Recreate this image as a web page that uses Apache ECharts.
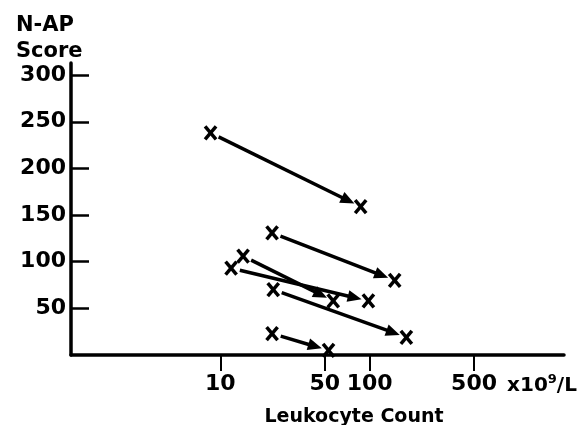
<!DOCTYPE html>
<html>
<head>
<meta charset="utf-8">
<script src="https://cdn.jsdelivr.net/npm/echarts@6/dist/echarts.min.js"></script>
<style>html,body{margin:0;padding:0;background:#fff;}#c{width:582px;height:425px;}</style>
</head>
<body>
<div id="c"></div>
<script>
// Paired observations: start (x) -> end (arrow, x)
const startCount = [8.6, 22.2, 14.2, 11.8, 22.6, 22.2];
const startScore = [238, 131, 106, 93, 70, 23];
const endCount = [87, 147, 57, 98, 176, 53];
const endScore = [159, 80, 58, 58, 19, 5];
const xTicks = [10, 50, 100, 500];
const unitTick = [500];
const yTicks = [50, 100, 150, 200, 250, 300];
const titleText = 'N-AP\nScore';
const xName = 'Leukocyte Count';

const FONT = 'DejaVu Sans';
const chart = echarts.init(document.getElementById('c'), null, {renderer: 'canvas'});

const pairs = startCount.map((v, i) => [v, startScore[i], endCount[i], endScore[i]]);
const markers = [];
startCount.forEach((v, i) => { markers.push([v, startScore[i]]); markers.push([endCount[i], endScore[i]]); });

function renderX(params, api) {
  const p = api.coord([api.value(0), api.value(1)]);
  const w = 5.5, h = 6.5;
  return {
    type: 'group',
    children: [
      {type: 'line', shape: {x1: p[0] - w, y1: p[1] - h, x2: p[0] + w, y2: p[1] + h}, style: {stroke: '#000', lineWidth: 3.5}},
      {type: 'line', shape: {x1: p[0] + w, y1: p[1] - h, x2: p[0] - w, y2: p[1] + h}, style: {stroke: '#000', lineWidth: 3.5}}
    ]
  };
}

function renderArrow(params, api) {
  const p0 = api.coord([api.value(0), api.value(1)]);
  const p1 = api.coord([api.value(2), api.value(3)]);
  const dx = p1[0] - p0[0], dy = p1[1] - p0[1];
  const L = Math.sqrt(dx * dx + dy * dy);
  const ux = dx / L, uy = dy / L;
  const nx = -uy, ny = ux;
  const s = [p0[0] + ux * 9, p0[1] + uy * 9];
  const tip = [p1[0] - ux * 7, p1[1] - uy * 7];
  const hl = 14, hw = 6;
  const base = [tip[0] - ux * hl, tip[1] - uy * hl];
  return {
    type: 'group',
    children: [
      {type: 'line', shape: {x1: s[0], y1: s[1], x2: base[0] + ux * 3, y2: base[1] + uy * 3}, style: {stroke: '#000', lineWidth: 3.5}},
      {type: 'polygon', shape: {points: [tip, [base[0] + nx * hw, base[1] + ny * hw], [base[0] - nx * hw, base[1] - ny * hw]]}, style: {fill: '#000'}}
    ]
  };
}

const labelStyle = {fontFamily: FONT, fontSize: 22, fontWeight: 'bold', color: '#000'};

chart.setOption({
  animation: false,
  backgroundColor: '#fff',
  title: {
    text: titleText, left: 11, top: 8,
    textStyle: {fontFamily: FONT, fontSize: 21, fontWeight: 'bold', color: '#000', lineHeight: 26}
  },
  grid: {left: 71, right: 18, top: 63, bottom: 70, containLabel: false, outerBoundsMode: 'none'},
  xAxis: [{
    type: 'log', logBase: 10, min: 1, max: 2000,
    name: xName, nameLocation: 'middle', nameGap: 53, nameMoveOverlap: false,
    nameTextStyle: {fontFamily: FONT, fontSize: 19, fontWeight: 'bold', color: '#000', padding: [0, 0, 0, 73]},
    axisLine: {show: true, lineStyle: {color: '#000', width: 3.5}},
    axisTick: {show: true, inside: false, length: 16, lineStyle: {color: '#000', width: 2}, customValues: xTicks},
    axisLabel: Object.assign({
      show: true, margin: 18, customValues: xTicks, hideOverlap: false,
      formatter: function (v) { return String(Math.round(v)); }
    }, labelStyle),
    splitLine: {show: false}, minorTick: {show: false}
  }, {
    type: 'log', logBase: 10, min: 1, max: 2000, position: 'bottom',
    axisLine: {show: false}, axisTick: {show: false},
    axisLabel: {
      show: true, margin: 18, customValues: unitTick, hideOverlap: false, align: 'left',
      formatter: function () { return '{u|x10}{s|9}{u|/L}'; },
      rich: {
        u: {fontFamily: FONT, fontWeight: 'bold', color: '#000', lineHeight: 26, fontSize: 20},
        s: {fontFamily: FONT, fontSize: 13, fontWeight: 'bold', color: '#000', lineHeight: 13, verticalAlign: 'top'}
      },
      padding: [0, 0, 0, 33]
    },
    splitLine: {show: false}, minorTick: {show: false}
  }],
  yAxis: {
    type: 'value', min: 0, max: 313,
    axisLine: {show: true, lineStyle: {color: '#000', width: 3.5}},
    axisTick: {show: true, inside: true, length: 18, lineStyle: {color: '#000', width: 2.5}, customValues: yTicks},
    axisLabel: Object.assign({show: true, margin: 5, customValues: yTicks}, labelStyle),
    splitLine: {show: false}
  },
  series: [
    {type: 'custom', coordinateSystem: 'cartesian2d', renderItem: renderArrow, data: pairs, encode: {x: [0, 2], y: [1, 3]}, silent: true},
    {type: 'custom', coordinateSystem: 'cartesian2d', renderItem: renderX, data: markers, encode: {x: 0, y: 1}, silent: true}
  ]
});
</script>
</body>
</html>
